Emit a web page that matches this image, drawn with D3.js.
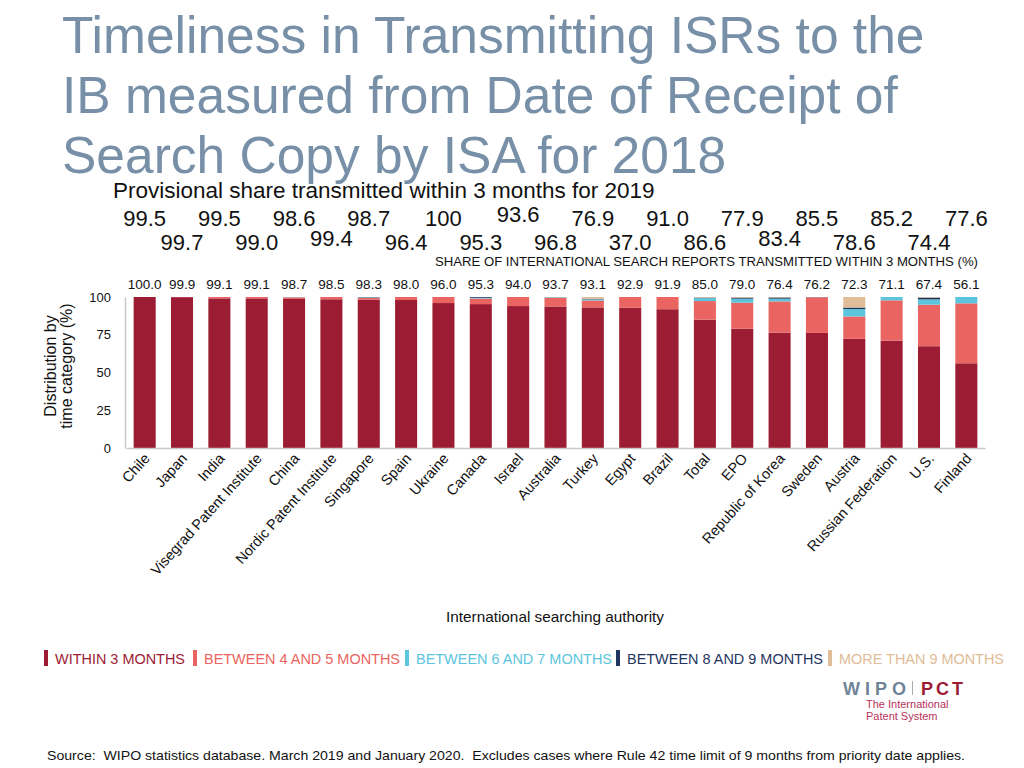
<!DOCTYPE html>
<html><head><meta charset="utf-8">
<script src="https://cdn.jsdelivr.net/npm/d3@7"></script>
<style>body{margin:0;background:#fff;}svg{display:block;font-family:"Liberation Sans",Arial,sans-serif;}</style>
</head><body>
<svg id="c" width="1024" height="768"></svg>
<script>
const categories = ["Chile","Japan","India","Visegrad Patent Institute","China","Nordic Patent Institute","Singapore","Spain","Ukraine","Canada","Israel","Australia","Turkey","Egypt","Brazil","Total","EPO","Republic of Korea","Sweden","Austria","Russian Federation","U.S.","Finland"];
const within3 = [100.0,99.9,99.1,99.1,98.7,98.5,98.3,98.0,96.0,95.3,94.0,93.7,93.1,92.9,91.9,85.0,79.0,76.4,76.2,72.3,71.1,67.4,56.1];
const between45 = [0,0.1,0.9,0.9,1.1,1.5,1.2,2.0,4.0,3.7,6.0,5.8,4.6,7.1,8.1,12.3,17.2,20.7,23.6,14.8,26.7,27.5,39.7];
const between67 = [0,0,0,0,0.2,0,0.3,0,0,0.5,0,0.3,0.8,0,0,2.0,2.7,1.8,0.1,4.9,2.2,3.5,4.2];
const between89 = [0,0,0,0,0,0,0.2,0,0,0.5,0,0.1,0.2,0,0,0.3,0.7,0.8,0.1,1.0,0,1.2,0];
const more9 = [0,0,0,0,0,0,0,0,0,0,0,0.1,1.3,0,0,0.4,0.4,0.3,0,7.0,0,0.4,0];
const provisionalLabels = ["99.5","99.7","99.5","99.0","98.6","99.4","98.7","96.4","100","95.3","93.6","96.8","76.9","37.0","91.0","86.6","77.9","83.4","85.5","78.6","85.2","74.4","77.6"];
const seriesNames = ["WITHIN 3 MONTHS","BETWEEN 4 AND 5 MONTHS","BETWEEN 6 AND 7 MONTHS","BETWEEN 8 AND 9 MONTHS","MORE THAN 9 MONTHS"];
const yTicks = [0,25,50,75,100];
const colors = ["#9c1c33","#ea6462","#5cc5dd","#1f3560","#e0bc98"];

const svg = d3.select("#c");
const rows = categories.map((c,i)=>({cat:c, s0:within3[i], s1:between45[i], s2:between67[i], s3:between89[i], s4:more9[i]}));
const keys = ["s0","s1","s2","s3","s4"];
const stack = d3.stack().keys(keys)(rows);

const x = d3.scaleBand().domain(categories).range([126,985]).paddingInner(0.41).paddingOuter(0.205);
const y = d3.scaleLinear().domain([0,100]).range([448,297]);

// Title
const title = ["Timeliness in Transmitting ISRs to the","IB measured from Date of Receipt of","Search Copy by ISA for 2018"];
svg.append("g").selectAll("text").data(title).join("text")
  .attr("x",62).attr("y",(d,i)=>53+i*60).attr("font-size",51.5).attr("fill","#7890a7").text(d=>d);

svg.append("text").attr("x",113).attr("y",198).attr("font-size",22.5).attr("fill","#111")
  .text("Provisional share transmitted within 3 months for 2019");

const raised = new Set(["Nordic Patent Institute","Israel","Republic of Korea"]);
svg.append("g").selectAll("text").data(categories).join("text")
  .attr("x",d=>x(d)+x.bandwidth()/2)
  .attr("y",(d,i)=>(i%2===0?226:250)-(raised.has(d)?4:0))
  .attr("text-anchor","middle").attr("font-size",22).attr("fill","#111")
  .text((d,i)=>provisionalLabels[i]);

svg.append("text").attr("x",978).attr("y",266).attr("text-anchor","end").attr("font-size",13)
  .attr("fill","#111").attr("textLength",543).attr("lengthAdjust","spacingAndGlyphs")
  .text("SHARE OF INTERNATIONAL SEARCH REPORTS TRANSMITTED WITHIN 3 MONTHS (%)");

// Bars
svg.append("g").selectAll("g").data(stack).join("g").attr("fill",(d,i)=>colors[i])
  .selectAll("rect").data(d=>d).join("rect")
  .attr("x",d=>x(d.data.cat)).attr("width",x.bandwidth())
  .attr("y",d=>y(d[1])).attr("height",d=>Math.max(0,y(d[0])-y(d[1])));

// Value labels
svg.append("g").selectAll("text").data(categories).join("text")
  .attr("x",d=>x(d)+x.bandwidth()/2).attr("y",289).attr("text-anchor","middle")
  .attr("font-size",13.5).attr("fill","#111").text((d,i)=>within3[i].toFixed(1));

// Axes
const yAxis = d3.axisLeft(y).tickValues(yTicks).tickSize(0).tickPadding(14);
const gy = svg.append("g").attr("transform","translate(125,0)").call(yAxis);
gy.select(".domain").attr("stroke","#c8c8c8").attr("stroke-width",1.5);
gy.selectAll("text").attr("font-size",13).attr("fill","#111").attr("font-family","Liberation Sans, Arial, sans-serif");

const xAxis = d3.axisBottom(x).tickSize(0).tickPadding(0);
const gx = svg.append("g").attr("transform","translate(0,448)").call(xAxis);
gx.select(".domain").attr("stroke","#c8c8c8").attr("stroke-width",1.5);
gx.selectAll("text").attr("font-size",14.5).attr("fill","#111").attr("font-family","Liberation Sans, Arial, sans-serif")
  .attr("text-anchor","end").attr("dy",null).attr("y",0)
  .attr("transform","translate(6,11) rotate(-48)");

// Y title
svg.append("text").attr("transform","translate(56,366) rotate(-90)").attr("text-anchor","middle")
  .attr("font-size",16).attr("fill","#111")
  .selectAll("tspan").data(["Distribution by","time category (%)"]).join("tspan")
  .attr("x",0).attr("dy",(d,i)=>i===0?0:16).text(d=>d);

svg.append("text").attr("x",555).attr("y",622).attr("text-anchor","middle").attr("font-size",15)
  .attr("fill","#111").attr("textLength",218).attr("lengthAdjust","spacingAndGlyphs")
  .text("International searching authority");

// Legend
const legX = [44,193,405,616,828];
const legW = [130,196,196,196,165];
const lg = svg.append("g").selectAll("g").data(seriesNames).join("g")
  .attr("transform",(d,i)=>`translate(${legX[i]},650)`);
lg.append("rect").attr("x",0).attr("y",0).attr("width",4).attr("height",16).attr("fill",(d,i)=>colors[i]);
lg.append("text").attr("x",11).attr("y",13.5).attr("font-size",15).attr("fill",(d,i)=>colors[i])
  .attr("textLength",(d,i)=>legW[i]).attr("lengthAdjust","spacingAndGlyphs").text(d=>d);

// Logo
const logo = svg.append("g");
logo.append("text").attr("x",843).attr("y",695).attr("font-size",18).attr("font-weight","bold")
  .attr("textLength",63).attr("lengthAdjust","spacing").attr("fill","#6f8498").text("WIPO");
logo.append("rect").attr("x",912).attr("y",681).attr("width",1).attr("height",14).attr("fill","#aaa");
logo.append("text").attr("x",921).attr("y",695).attr("font-size",18).attr("font-weight","bold")
  .attr("textLength",42).attr("lengthAdjust","spacing").attr("fill","#9c1c33").text("PCT");
logo.append("text").attr("x",866).attr("y",708).attr("font-size",11).attr("fill","#b8325a").text("The International");
logo.append("text").attr("x",866).attr("y",720).attr("font-size",11).attr("fill","#b8325a").text("Patent System");

svg.append("text").attr("x",47).attr("y",760).attr("font-size",13.5).attr("fill","#111").attr("xml:space","preserve")
  .attr("textLength",918).attr("lengthAdjust","spacingAndGlyphs")
  .text("Source:  WIPO statistics database. March 2019 and January 2020.  Excludes cases where Rule 42 time limit of 9 months from priority date applies.");
</script>
</body></html>
